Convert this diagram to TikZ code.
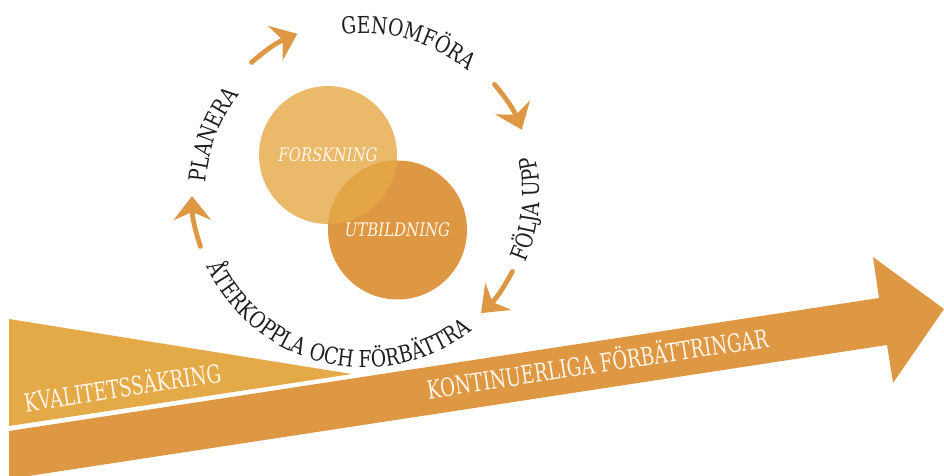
\documentclass[tikz,border=0pt]{standalone}
\usepackage{fontspec}
\usetikzlibrary{arrows.meta,decorations.text}

\newfontfamily\cyclefont[FakeStretch=0.8]{DejaVu Serif}
\newfontfamily\bandfont[FakeStretch=0.72]{DejaVu Serif}
\newcommand\phasefont{\cyclefont\fontsize{17.5}{20}\selectfont\color{ink}}

\definecolor{ochre}{RGB}{222,152,68}
\definecolor{sand}{RGB}{229,170,72}
\definecolor{paleochre}{RGB}{234,186,106}
\definecolor{lensochre}{RGB}{228,165,70}
\definecolor{cream}{RGB}{255,246,232}
\definecolor{ink}{RGB}{30,30,30}

\begin{document}
\begin{tikzpicture}[x=0.75pt, y=0.75pt,
  bubble/.style = {circle, inner sep=0pt, text=cream,
                   font=\cyclefont\itshape\fontsize{14}{16}\selectfont},
  cyclearrow/.style = {ochre, line width=3.6pt, line cap=round,
                       -{Stealth[length=18pt, width=28pt, inset=6pt]}},
  phase/.style = {decorate, decoration={text along path, text align=center,
                  text={|\phasefont|#1}}},
  bandlabel/.style = {text=cream, anchor=base,
                      font=\bandfont\fontsize{19}{22}\selectfont}]
  \useasboundingbox (0, 0) rectangle (944, 475);
  \clip (0, 0) rectangle (944, 475);

  % Centre of the cycle.
  \coordinate (Cycle) at (365, 282);

  % Research and education.
  \node at (328, 320) [bubble, fill=paleochre, minimum size=103.5pt, name=Forskning] {FORSKNING};
  \node at (397.5, 245) [bubble, fill=ochre, minimum size=104.25pt, name=Utbildning,
        path picture={\fill [lensochre] (Forskning.center) circle (51.75pt);}] {UTBILDNING};

  % Phases.
  \path [phase=GENOMFÖRA]
        ([shift={(134:119.6pt)}]Cycle) arc [start angle=134, end angle=14, radius=119.6pt];
  \path [phase=PLANERA]
        ([shift={(219:119.6pt)}]Cycle) arc [start angle=219, end angle=99, radius=119.6pt];
  \path [phase=FÖLJA UPP]
        ([shift={(-65.6:130.9pt)}]Cycle) arc [start angle=-65.6, end angle=54.4, radius=130.9pt];
  \path [phase=ÅTERKOPPLA OCH FÖRBÄTTRA]
        ([shift={(180:130.9pt)}]Cycle) arc [start angle=180, end angle=333, radius=130.9pt];

  % Ends of the cycle arrows.
  \coordinate (PlanFrom) at ([shift={(131:129.75pt)}]Cycle);
  \coordinate (PlanTo)   at ([shift={(113:129.75pt)}]Cycle);
  \coordinate (DoFrom)   at ([shift={(40:126.75pt)}]Cycle);
  \coordinate (DoTo)     at ([shift={(22:126.75pt)}]Cycle);
  \coordinate (CheckFrom) at ([shift={(-28:125.25pt)}]Cycle);
  \coordinate (CheckTo)   at ([shift={(-46:125.25pt)}]Cycle);
  \coordinate (ActFrom)  at ([shift={(198:129.75pt)}]Cycle);
  \coordinate (ActTo)    at ([shift={(181:129.75pt)}]Cycle);

  \draw [cyclearrow] (PlanFrom)  to [bend left=9] (PlanTo);
  \draw [cyclearrow] (DoFrom)    to [bend left=9] (DoTo);
  \draw [cyclearrow] (CheckFrom) to [bend left=9] (CheckTo);
  \draw [cyclearrow] (ActFrom)   to [bend left=9] (ActTo);

  % Quality assurance wedge and improvement arrow.
  \fill [sand] (9, 156) -- (352, 101) -- (9, 49) -- cycle;
  \fill [ochre] (9, 44) -- (879, 177) -- (873, 218) -- (944, 166)
                -- (893, 92) -- (887, 130) -- (9, -4) -- cycle;

  \node at (124, 78) [bandlabel, rotate=8.7, name=Kvalitet] {KVALITETSSÄKRING};
  \node at (599, 102) [bandlabel, rotate=8.7, name=Forbattring] {KONTINUERLIGA FÖRBÄTTRINGAR};
\end{tikzpicture}
\end{document}
